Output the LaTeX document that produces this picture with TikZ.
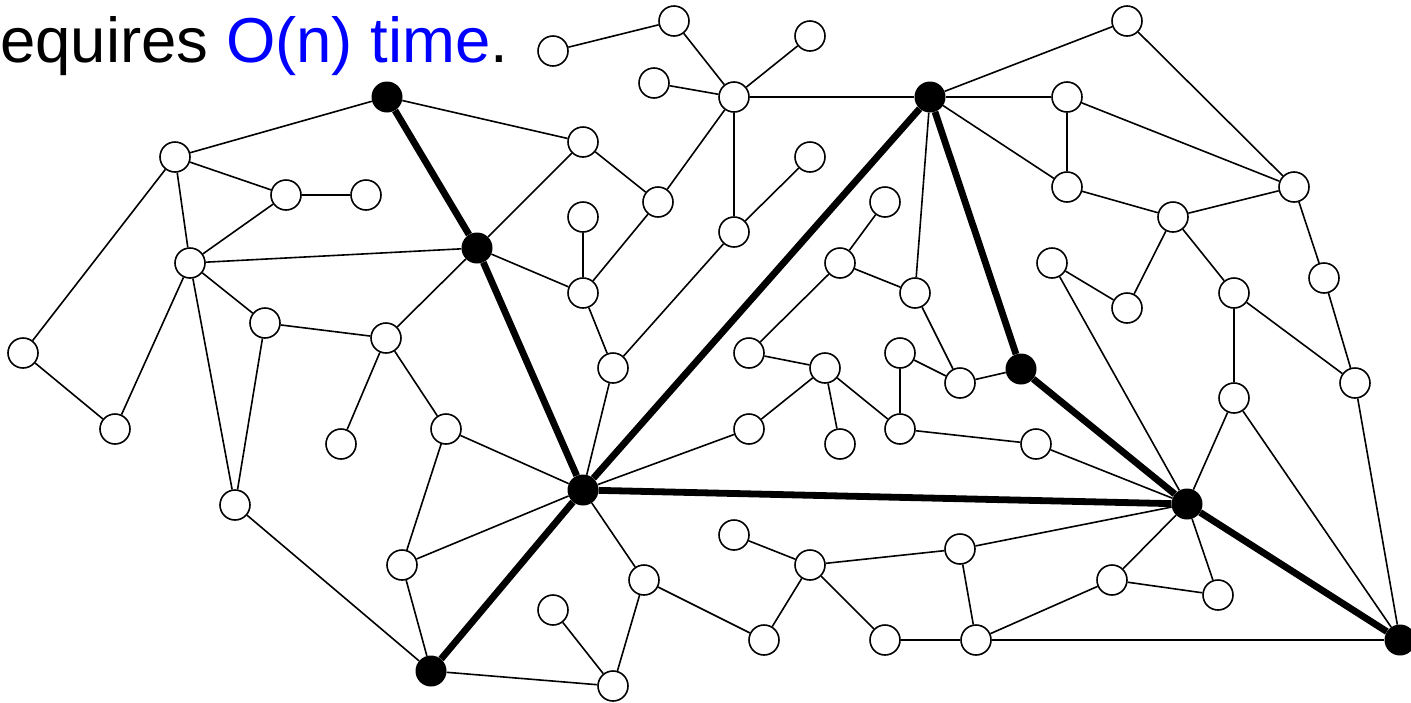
\documentclass[tikz,border=0pt]{standalone}
\usepackage{fontspec}
\setmainfont{Liberation Sans}
\definecolor{tblue}{RGB}{0,0,255}
\begin{document}
\begin{tikzpicture}[x=1pt,y=-1pt,
  wn/.style={circle,draw,fill=white,line width=1.6pt,minimum size=30pt,inner sep=0pt},
  bn/.style={circle,fill=black,minimum size=31pt,inner sep=0pt},
  ed/.style={line width=1.6pt},
  th/.style={line width=6.8pt}]
\useasboundingbox (0,0) rectangle (1411,702);
\node[anchor=base west,inner sep=0pt,font=\fontsize{63.5}{70}\selectfont] (title) at (0,62) {equires \textcolor{tblue}{O(n) time}.};
% white nodes
\foreach \n/\x/\y in {A1/175/157,A2/286/195,A3/366/195,A4/190/263,A5/265/323,A6/386/338,
  L1/23/353,L2/115/429,A7/235/505,A8/341/444,A9/446/429,A10/402/565,
  C1/553/51,C2/674/21,C3/654/83,C4/734/97,C5/810/36,C6/583/142,C7/658/202,C8/583/217,
  C9/583/293,C10/734/232,C11/810/157,C12/885/202,C13/840/263,C14/915/293,
  D1/1127/21,D2/1067/97,D3/1067/187,D4/1294/187,D5/1173/217,D6/1052/263,D7/1127/308,
  D8/1234/293,D9/1324/278,D10/1234/398,D11/1355/383,
  E1/613/368,E2/749/353,E3/825/368,E4/749/429,E5/840/444,E6/900/353,E7/900/429,
  E8/960/383,E9/1036/444,
  F1/734/535,F2/810/565,F3/644/580,F4/553/610,F5/613/686,F6/764/640,F7/885/640,
  G1/960/549,G2/1112/580,G3/1218/595,G4/976/640}
  \node[wn] (\n) at (\x,\y) {};
% black nodes
\foreach \n/\x/\y in {B0/387/97,B1/477/248,B2/431/671,B3/930/97,B4/583/490,
  B5/1021/369,B6/1187/504,B7/1400/640}
  \node[bn] (\n) at (\x,\y) {};
% thin edges
\foreach \a/\b in {A1/B0,A1/A2,A2/A3,A1/A4,A1/L1,A4/A2,A4/B1,A4/A5,A4/L2,A4/A7,
  A5/A6,A5/A7,A6/B1,A6/A8,A6/A9,B0/C6,L1/L2,
  C1/C2,C2/C4,C3/C4,C4/C5,C4/B3,C4/C7,C4/C10,C6/B1,C6/C7,C7/C9,C8/C9,B1/C9,C9/E1,
  C10/C11,C10/E1,E1/B4,C12/C13,C13/C14,C13/E2,B3/C14,C14/E8,
  B3/D1,B3/D2,B3/D3,D1/D4,D2/D3,D2/D4,D3/D5,D5/D4,D5/D7,D5/D8,D6/D7,D6/B6,
  D8/D10,D8/D11,D4/D9,D9/D11,D11/B7,D10/B6,D10/B7,
  E8/B5,E6/E8,E6/E7,E3/E7,E2/E3,E3/E4,E3/E5,E4/B4,E7/E9,E9/B6,
  G1/B6,G1/F2,G1/G4,G4/G2,G2/B6,G2/G3,G3/B6,G4/B7,G4/F7,
  F1/F2,F2/F6,F2/F7,B4/F3,F3/F6,F3/F5,F4/F5,B2/F5,
  B4/A9,B4/A10,A9/A10,A10/B2,A7/B2}
  \draw[ed] (\a) -- (\b);
% thick edges
\foreach \a/\b in {B0/B1,B1/B4,B3/B4,B3/B5,B5/B6,B6/B7,B4/B6,B4/B2}
  \draw[th] (\a) -- (\b);
\end{tikzpicture}
\end{document}
